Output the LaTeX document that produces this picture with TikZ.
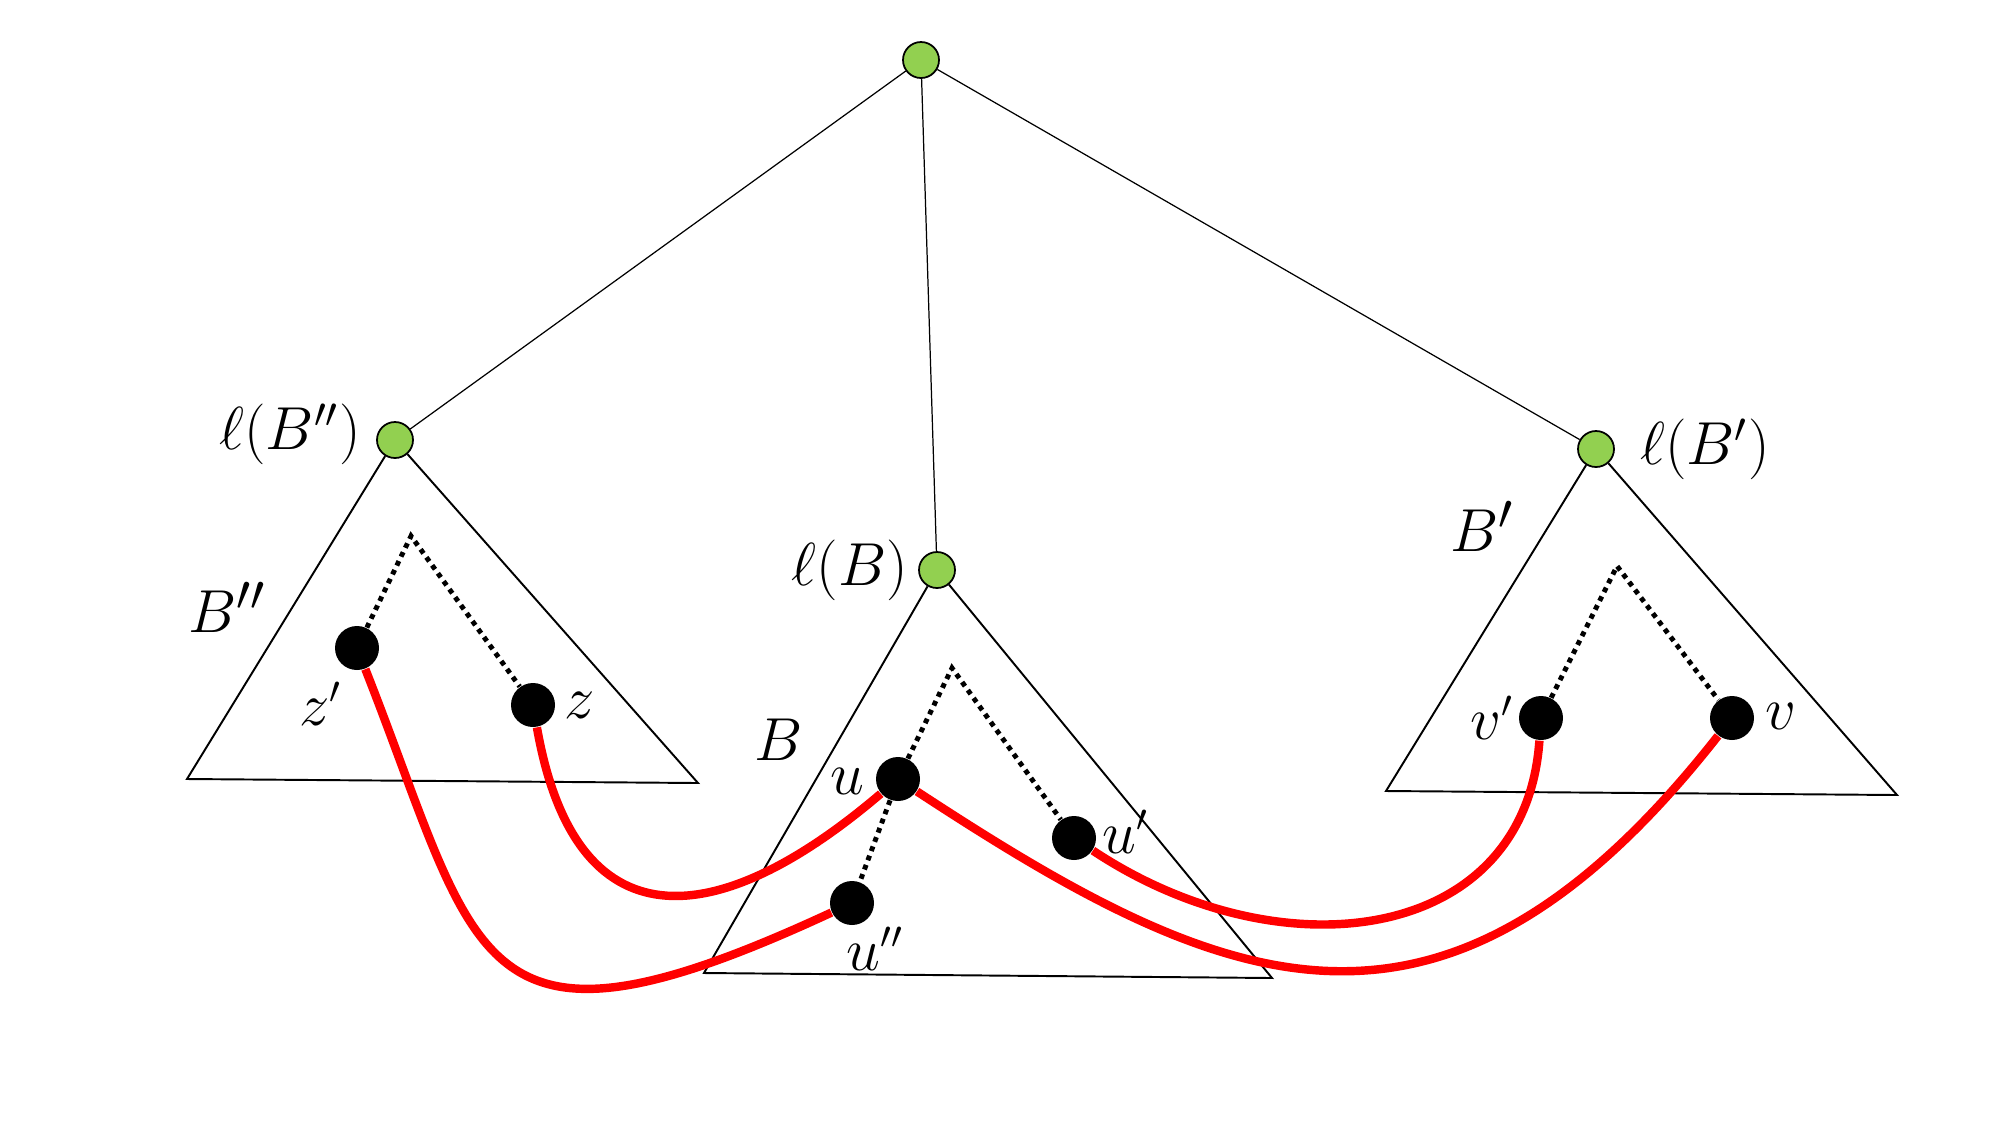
\documentclass[tikz,border=0pt]{standalone}
\usepackage{amsmath}
\usepackage{xcolor}
\usepackage{tikz}
\usetikzlibrary{positioning}
\definecolor{leafgreen}{HTML}{92D050}
\tikzset{
  lab/.style = {inner sep=0pt, font=\fontsize{16}{19}\selectfont},
  labl/.style = {lab, font=\fontsize{17.5}{20}\selectfont},
  labb/.style = {lab, font=\fontsize{19}{22}\selectfont},
  gr/.style = {draw, circle, fill=leafgreen, minimum size=3.6mm, inner sep=0pt, line width=0.5pt},% racine d'un sac
  bl/.style = {circle, fill=black, minimum size=4.4mm, inner sep=0pt},
  rp/.style = {draw=red, line width=2.4pt},
  dt/.style = {line width=1.4pt, dash pattern=on 1.4pt off 1.4pt},
  tri/.style = {line width=0.55pt}
}
\begin{document}
\begin{tikzpicture}[x=1cm, y=-1cm]
\useasboundingbox (0,0) rectangle (20,11.25);
\node [gr] (r) at (9.21,0.60) {};
\node [gr] (l_1) at (3.95,4.40) {};
\node [gr] (l_2) at (9.37,5.70) {};
\node [gr] (l_3) at (15.96,4.49) {};
\coordinate (t_1) at (4.11,5.36);
\coordinate (t_2) at (9.52,6.68);
\coordinate (t_3) at (16.17,5.66);
\node [bl] (z_1) at (3.57,6.48) {};
\node [bl] (z_2) at (5.33,7.05) {};
\node [bl] (u_1) at (8.98,7.79) {};
\node [bl] (u_2) at (10.74,8.38) {};
\node [bl] (u_3) at (8.52,9.03) {};
\node [bl] (v_1) at (15.41,7.18) {};
\node [bl] (v_2) at (17.32,7.18) {};
% arbre et sacs
\draw [line width=0.35pt] (r) -- (l_1);
\draw [line width=0.35pt] (r) -- (l_2);
\draw [line width=0.35pt] (r) -- (l_3);
\draw [tri] (l_1) -- (1.87,7.79) -- (6.98,7.83) -- (l_1);
\draw [tri] (l_2) -- (7.04,9.73) -- (12.72,9.78) -- (l_2);
\draw [tri] (l_3) -- (13.86,7.91) -- (18.97,7.95) -- (l_3);
\draw [dt] (z_1) -- (t_1) -- (z_2);
\draw [dt] (u_1) -- (t_2) -- (u_2);
\draw [dt] (u_1) -- (u_3);
\draw [dt] (v_1) -- (t_3) -- (v_2);
% chemins
\draw [rp] (z_1) .. controls +(1.23,3.12) and +(-3.82,1.77) .. (u_3);
\draw [rp] (z_2) .. controls +(0.42,2.40) and +(-1.83,1.56) .. (u_1);
\draw [rp] (u_1) .. controls +(3.22,2.11) and +(-2.92,3.72) .. (v_2);
\draw [rp] (u_2) .. controls +(2.06,1.37) and +(-0.16,2.27) .. (v_1);
% etiquettes
\node [labl] (n_l1) at (2.90,4.34) {$\ell(B'')$};
\node [labl] (n_l2) at (8.50,5.70) {$\ell(B)$};
\node [labl] (n_l3) at (17.05,4.49) {$\ell(B')$};
\node [labb] (n_b1) at (2.27,6.07) {$B''$};
\node [labb] (n_b2) at (7.79,7.40) {$B$};
\node [labb] (n_b3) at (14.82,5.26) {$B'$};
\node [lab] (n_z1) at (3.21,7.04) {$z'$};
\node [lab] (n_z2) at (5.80,7.05) {$z$};
\node [lab] (n_u1) at (8.47,7.81) {$u$};
\node [lab] (n_u2) at (11.26,8.32) {$u'$};
\node [lab] (n_u3) at (8.75,9.49) {$u''$};
\node [lab] (n_v1) at (14.92,7.18) {$v'$};
\node [lab] (n_v2) at (17.81,7.16) {$v$};
\end{tikzpicture}
\end{document}
